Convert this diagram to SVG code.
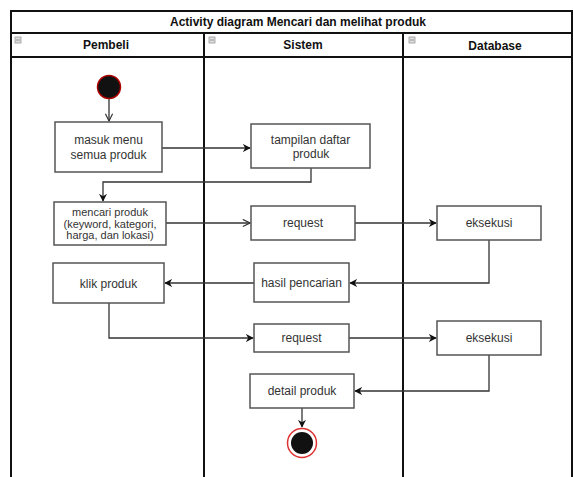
<svg xmlns="http://www.w3.org/2000/svg" width="573" height="477" viewBox="0 0 573 477">
<style>
.frame{fill:none;stroke:#111;stroke-width:2}
.box{fill:#fff;stroke:#555;stroke-width:1.5}
.t{font-family:"Liberation Sans",Arial,sans-serif;font-size:12px;fill:#333;text-anchor:middle;dominant-baseline:central}
.ts{font-family:"Liberation Sans",Arial,sans-serif;font-size:11px;fill:#333;text-anchor:middle;dominant-baseline:central}
.h{font-family:"Liberation Sans",Arial,sans-serif;font-size:12px;font-weight:bold;fill:#111;text-anchor:middle;dominant-baseline:central}
.c{fill:none;stroke:#333;stroke-width:1.3}
.ic{fill:#ddd;stroke:#999;stroke-width:0.8}
</style>
<defs>
<marker id="af" viewBox="0 0 10 10" refX="9" refY="5" markerWidth="8" markerHeight="8" markerUnits="userSpaceOnUse" orient="auto"><path d="M0,0 L10,5 L0,10 L3,5 Z" fill="#111"/></marker>
<marker id="ao" viewBox="0 0 10 10" refX="9" refY="5" markerWidth="9" markerHeight="9" markerUnits="userSpaceOnUse" orient="auto"><path d="M1,1 L9,5 L1,9" fill="none" stroke="#333" stroke-width="1.3"/></marker>
</defs>
<rect width="573" height="477" fill="#fff"/>
<g id="frame">
<rect class="frame" x="11" y="11" width="561" height="470"/>
<line class="frame" x1="11" y1="33" x2="572" y2="33"/>
<line class="frame" x1="11" y1="57" x2="572" y2="57"/>
<line class="frame" x1="204" y1="33" x2="204" y2="477"/>
<line class="frame" x1="403" y1="33" x2="403" y2="477"/>
<text class="h" x="298" y="22">Activity diagram Mencari dan melihat produk</text>
<rect class="ic" x="15" y="37" width="6" height="6"/><line x1="16" y1="40" x2="20" y2="40" stroke="#888" stroke-width="0.8"/>
<rect class="ic" x="209" y="37" width="6" height="6"/><line x1="210" y1="40" x2="214" y2="40" stroke="#888" stroke-width="0.8"/>
<rect class="ic" x="409" y="37" width="6" height="6"/><line x1="410" y1="40" x2="414" y2="40" stroke="#888" stroke-width="0.8"/>
<text class="h" x="106" y="45">Pembeli</text>
<text class="h" x="303" y="45">Sistem</text>
<text class="h" x="495" y="46">Database</text>
</g>
<g id="connectors">
<line class="c" x1="109" y1="99" x2="109" y2="121" marker-end="url(#ao)"/>
<line class="c" x1="162" y1="148" x2="250" y2="148" marker-end="url(#af)"/>
<polyline class="c" points="311,168 311,182 103,182 103,201" marker-end="url(#af)"/>
<line class="c" x1="166" y1="223" x2="250" y2="223" marker-end="url(#ao)"/>
<line class="c" x1="355" y1="223" x2="436" y2="223" marker-end="url(#af)"/>
<polyline class="c" points="489,240 489,283 350,283" marker-end="url(#af)"/>
<line class="c" x1="254" y1="283" x2="165" y2="283" marker-end="url(#af)"/>
<polyline class="c" points="109,303 109,338 253,338" marker-end="url(#af)"/>
<line class="c" x1="349" y1="338" x2="436" y2="338" marker-end="url(#af)"/>
<polyline class="c" points="489,355 489,391 355,391" marker-end="url(#af)"/>
<line class="c" x1="302" y1="408" x2="302" y2="427" marker-end="url(#af)"/>
</g>
<g id="start"><circle cx="109" cy="87" r="11.5" fill="#111" stroke="#a00" stroke-width="1.5"/></g>
<g id="masuk"><rect class="box" x="55" y="122" width="107" height="50"/><text class="t" x="108.5" y="140">masuk menu</text><text class="t" x="108.5" y="155">semua produk</text></g>
<g id="tampilan"><rect class="box" x="251" y="124" width="119" height="44"/><text class="t" x="310.5" y="140">tampilan daftar</text><text class="t" x="311" y="154">produk</text></g>
<g id="mencari"><rect class="box" x="54" y="202" width="112" height="43"/><text class="ts" x="110" y="212">mencari produk</text><text class="ts" x="110" y="223.5">(keyword, kategori,</text><text class="ts" x="110" y="235">harga, dan lokasi)</text></g>
<g id="request1"><rect class="box" x="251" y="206" width="104" height="34"/><text class="t" x="303" y="223">request</text></g>
<g id="eksekusi1"><rect class="box" x="437" y="206" width="104" height="34"/><text class="t" x="489" y="223">eksekusi</text></g>
<g id="hasil"><rect class="box" x="254" y="263" width="95" height="39"/><text class="t" x="301.5" y="283">hasil pencarian</text></g>
<g id="klik"><rect class="box" x="53" y="263" width="111" height="40"/><text class="t" x="108.5" y="284">klik produk</text></g>
<g id="request2"><rect class="box" x="254" y="324" width="95" height="28"/><text class="t" x="301.5" y="338">request</text></g>
<g id="eksekusi2"><rect class="box" x="437" y="321" width="104" height="34"/><text class="t" x="489" y="338">eksekusi</text></g>
<g id="detail"><rect class="box" x="250" y="374" width="104" height="34"/><text class="t" x="302" y="391">detail produk</text></g>
<g id="end"><circle cx="302" cy="443" r="14.5" fill="#fff" stroke="#d33" stroke-width="1.5"/><circle cx="302" cy="443" r="11" fill="#111"/></g>
</svg>
